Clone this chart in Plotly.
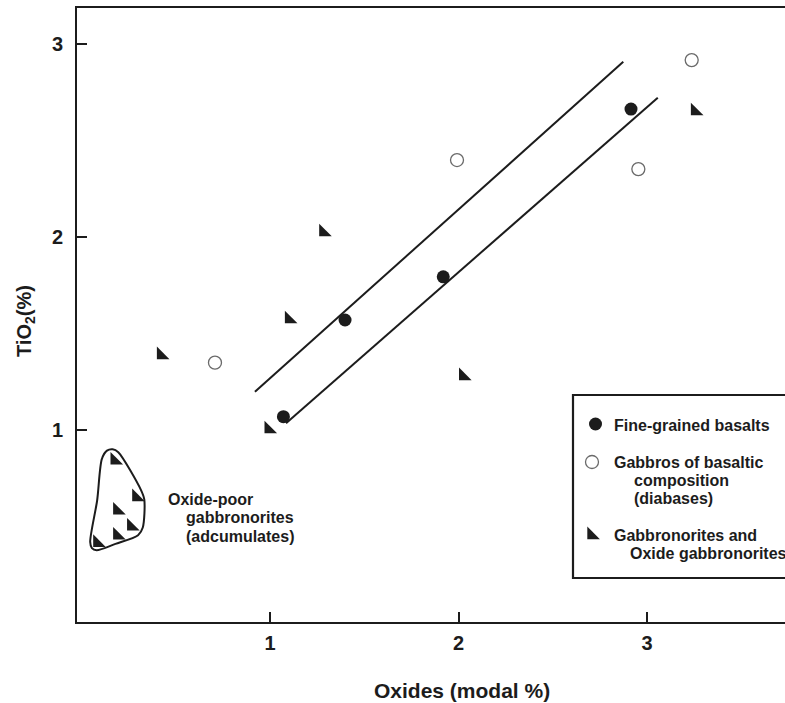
import plotly.graph_objects as go

# ---------------- data ----------------
basalt_x = [1.071, 1.398, 1.919, 2.915]
basalt_y = [1.069, 1.570, 1.794, 2.663]

gabbro_x = [0.708, 1.992, 2.954, 3.237]
gabbro_y = [1.349, 2.399, 2.352, 2.917]

norite_x = [0.422, 1.101, 1.283, 2.025, 0.993, 3.255]
norite_y = [1.389, 1.575, 2.026, 1.280, 1.005, 2.653]

adcum_x = [0.176, 0.291, 0.190, 0.264, 0.190, 0.084]
adcum_y = [0.843, 0.653, 0.584, 0.501, 0.454, 0.416]

upper_line_x = [0.920, 2.874]
upper_line_y = [1.198, 2.908]
lower_line_x = [1.085, 3.057]
lower_line_y = [1.035, 2.722]

outline_x = [0.083, 0.108, 0.135, 0.165, 0.195, 0.315, 0.333, 0.325, 0.300,
             0.180, 0.080, 0.055, 0.046, 0.083]
outline_y = [0.636, 0.850, 0.893, 0.900, 0.885, 0.690, 0.640, 0.495, 0.455,
             0.410, 0.377, 0.388, 0.420, 0.636]

x_ticks = [1, 2, 3]
y_ticks = [1, 2, 3]
x_title = "Oxides (modal %)"
y_title = "TiO<sub>2</sub>(%)"
group_label = ["Oxide-poor", "gabbronorites", "(adcumulates)"]
legend_lines = [
    ["Fine-grained basalts"],
    ["Gabbros of basaltic", "composition", "(diabases)"],
    ["Gabbronorites and", "Oxide gabbronorites"],
]

# ---------------- style ----------------
INK = "#1c1c1c"
FONT = "Liberation Sans, Arial, sans-serif"
W, H = 785, 703
L, R, T, B = 77, 0, 8, 81
XR = [-0.024, 3.732]
YR = [0.005, 3.187]


def px_x(px):
    return (px - L) / (W - L - R)


def px_y(py):
    return (H - B - py) / (H - T - B)


fig = go.Figure()

# regression band lines
for lx, ly in [(upper_line_x, upper_line_y), (lower_line_x, lower_line_y)]:
    fig.add_trace(go.Scatter(x=lx, y=ly, mode="lines",
                             line=dict(color=INK, width=2), showlegend=False,
                             hoverinfo="skip"))

# outline around adcumulates
fig.add_trace(go.Scatter(x=outline_x, y=outline_y, mode="lines",
                         line=dict(color=INK, width=2, shape="spline", smoothing=0.8),
                         showlegend=False, hoverinfo="skip"))

tri = dict(symbol="triangle-sw", size=14, color=INK, line=dict(width=0))
fig.add_trace(go.Scatter(x=norite_x + adcum_x, y=norite_y + adcum_y, mode="markers",
                         marker=tri, showlegend=False))
fig.add_trace(go.Scatter(x=gabbro_x, y=gabbro_y, mode="markers",
                         marker=dict(symbol="circle-open", size=13, color="#6a6a6a",
                                     line=dict(width=1.3, color="#6a6a6a")),
                         showlegend=False))
fig.add_trace(go.Scatter(x=basalt_x, y=basalt_y, mode="markers",
                         marker=dict(symbol="circle", size=13, color=INK),
                         showlegend=False))

# ---------------- legend (pixel overlay axes) ----------------
key_pos = [(595.5, 424), (592, 462), (591.5, 535)]
key_markers = [
    dict(symbol="circle", size=13, color=INK),
    dict(symbol="circle-open", size=13, color="#6a6a6a", line=dict(width=1.3, color="#6a6a6a")),
    tri,
]
for (kx, ky), mk in zip(key_pos, key_markers):
    fig.add_trace(go.Scatter(x=[kx], y=[ky], xaxis="x2", yaxis="y2", mode="markers",
                             marker=mk, showlegend=False, hoverinfo="skip"))

ann = []
line_pos = [
    [(612, 425)],
    [(612, 462), (632, 480), (632, 498)],
    [(612, 535), (628, 553)],
]
for lines, poss in zip(legend_lines, line_pos):
    for txt, (tx, ty) in zip(lines, poss):
        ann.append(dict(x=px_x(tx), y=px_y(ty), xref="paper", yref="paper",
                        text="<b>%s</b>" % txt,
                        showarrow=False, xanchor="left", yanchor="middle",
                        font=dict(family=FONT, size=16, color=INK)))

for txt, (tx, ty) in zip(group_label, [(166, 499), (184, 517), (184, 536)]):
    ann.append(dict(x=px_x(tx), y=px_y(ty), xref="paper", yref="paper",
                    text="<b>%s</b>" % txt,
                    showarrow=False, xanchor="left", yanchor="middle",
                    font=dict(family=FONT, size=16, color=INK)))

# axis titles
ann.append(dict(x=px_x(462), y=px_y(690), xref="paper", yref="paper",
                text="<b>%s</b>" % x_title,
                showarrow=False, xanchor="center", yanchor="middle",
                font=dict(family=FONT, size=21, color=INK)))
ann.append(dict(x=px_x(25), y=px_y(321), xref="paper", yref="paper",
                text="<b>%s</b>" % y_title,
                showarrow=False, xanchor="center", yanchor="middle", textangle=-90,
                font=dict(family=FONT, size=20, color=INK)))

shapes = [dict(type="rect", xref="x2", yref="y2", x0=573, x1=810, y0=395, y1=578,
               line=dict(color=INK, width=2.2), fillcolor="rgba(0,0,0,0)")]

axis_common = dict(showgrid=False, zeroline=False, ticks="inside", ticklen=10,
                   tickwidth=2, tickcolor=INK, showline=True, linewidth=2,
                   linecolor=INK,
                   tickfont=dict(family=FONT, size=20, color=INK))

fig.update_layout(
    width=W, height=H,
    margin=dict(l=L, r=R, t=T, b=B, pad=0),
    paper_bgcolor="white", plot_bgcolor="white",
    showlegend=False,
    xaxis=dict(range=XR, tickvals=x_ticks, ticktext=["<b>%d</b>" % v for v in x_ticks],
               mirror=True, ticklabelstandoff=2, **axis_common),
    yaxis=dict(range=YR, tickvals=y_ticks, ticktext=["<b>%d</b>" % v for v in y_ticks],
               ticklabelstandoff=8, **axis_common),
    xaxis2=dict(overlaying="x", range=[L, W - R], visible=False, fixedrange=True),
    yaxis2=dict(overlaying="y", range=[H - B, T], visible=False, fixedrange=True),
    annotations=ann,
    shapes=shapes,
)

fig.write_html("out.html")
